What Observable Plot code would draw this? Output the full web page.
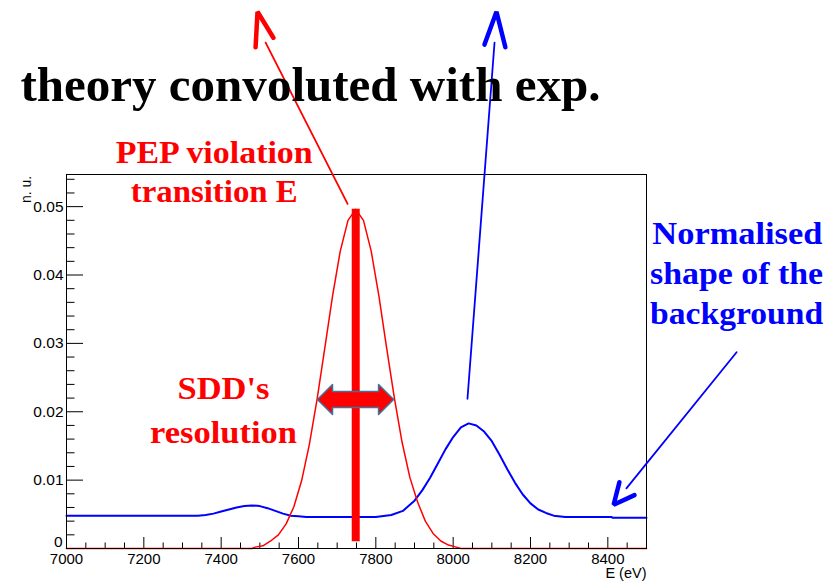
<!DOCTYPE html>
<html><head><meta charset="utf-8">
<script src="https://cdn.jsdelivr.net/npm/d3@7"></script>
<script src="https://cdn.jsdelivr.net/npm/@observablehq/plot@0.6"></script>
<style>
html,body{margin:0;padding:0;background:#fff;}
#chart{width:827px;height:582px;overflow:hidden;}
</style></head><body><div id="chart"></div>
<script>
// Background shape (blue), normalised
const blueEnergy = [7000, 7340, 7360, 7380, 7400, 7420, 7440, 7460, 7480, 7500, 7520, 7540, 7560, 7580, 7600, 7620, 7700, 7800, 7840, 7870, 7900, 7920, 7940, 7960, 7980, 8000, 8020, 8040, 8060, 8080, 8100, 8120, 8140, 8160, 8180, 8200, 8220, 8240, 8260, 8290, 8410, 8412, 8500];
const blueValue  = [0.0048, 0.0048, 0.0049, 0.0051, 0.0054, 0.0057, 0.0060, 0.0062, 0.0063, 0.0062, 0.0059, 0.0055, 0.0051, 0.0048, 0.0047, 0.0046, 0.0046, 0.0046, 0.0049, 0.0055, 0.0070, 0.0085, 0.0103, 0.0124, 0.0145, 0.0163, 0.0177, 0.0183, 0.0180, 0.0171, 0.0157, 0.0137, 0.0116, 0.0096, 0.0079, 0.0066, 0.0057, 0.0052, 0.0048, 0.0046, 0.0046, 0.0045, 0.0045];

// PEP violating transition convoluted with detector response (red)
const redEnergy = [7000, 7480, 7488, 7508, 7528, 7548, 7568, 7588, 7608, 7628, 7648, 7668, 7688, 7708, 7728, 7748, 7768, 7788, 7808, 7828, 7848, 7868, 7888, 7908, 7928, 7948, 7968, 7988, 8008, 8020, 8500];
const redValue  = [0, 0, 0.0002, 0.0004, 0.0011, 0.0020, 0.0036, 0.0061, 0.0099, 0.0152, 0.0218, 0.0293, 0.0369, 0.0435, 0.0480, 0.0496, 0.0480, 0.0435, 0.0369, 0.0293, 0.0220, 0.0155, 0.0104, 0.0068, 0.0040, 0.0022, 0.0011, 0.0005, 0.0002, 0, 0];

const peakEnergy = 7748;
const peakValue = 0.0496;

const xMajorTicks = [7000, 7200, 7400, 7600, 7800, 8000, 8200, 8400];
const xMinorTicks = [7050, 7100, 7150, 7250, 7300, 7350, 7450, 7500, 7550, 7650, 7700, 7750, 7850, 7900, 7950, 8050, 8100, 8150, 8250, 8300, 8350, 8450];
const yMajorTicks = [0, 0.01, 0.02, 0.03, 0.04, 0.05];
const yMinorTicks = [0.002, 0.004, 0.006, 0.008, 0.012, 0.014, 0.016, 0.018, 0.022, 0.024, 0.026, 0.028, 0.032, 0.034, 0.036, 0.038, 0.042, 0.044, 0.046, 0.048, 0.052, 0.054];

// annotation geometry, in data units (E in eV, value in n.u.)
const resolutionArrowE = [7649, 7688, 7688, 7807, 7807, 7846, 7807, 7807, 7688, 7688];
const resolutionArrowV = [0.02178, 0.02398, 0.02295, 0.02295, 0.02398, 0.02178, 0.01959, 0.02061, 0.02061, 0.01959];

const pointerGroup = ["redLine","redLine","redHead","redHead","redHead","blueLine","blueLine","blueHead","blueHead","blueHead","bgLine","bgLine","bgHead","bgHead","bgHead"];
const pointerE = [7727, 7515, 7489, 7494, 7535, 8037, 8107, 8081, 8112, 8135, 8733, 8448, 8430, 8415, 8469];
const pointerV = [0.0504, 0.0740, 0.0733, 0.0785, 0.0747, 0.0219, 0.0740, 0.0737, 0.0785, 0.0733, 0.0287, 0.0088, 0.0097, 0.0064, 0.0078];

const titleText = ["theory convoluted with exp."];
const redLabels = ["PEP violation", "transition E", "SDD's", "resolution"];
const redLabelE = [7382, 7382, 7406, 7406];
const redLabelV = [0.0564, 0.0507, 0.0218, 0.0155];
const blueLabels = ["Normalised", "shape of the", "background"];
const blueLabelE = [8735, 8733, 8733];
const blueLabelV = [0.0446, 0.0387, 0.0329];

const blue = blueEnergy.map((e, i) => ({e, v: blueValue[i]}));
const red = redEnergy.map((e, i) => ({e, v: redValue[i]}));
const arrow = resolutionArrowE.map((e, i) => ({e, v: resolutionArrowV[i]}));
const pointers = pointerE.map((e, i) => ({g: pointerGroup[i], e, v: pointerV[i]}));
const redLab = redLabels.map((t, i) => ({t, e: redLabelE[i], v: redLabelV[i]}));
const blueLab = blueLabels.map((t, i) => ({t, e: blueLabelE[i], v: blueLabelV[i]}));

const serif = "'Liberation Serif', 'DejaVu Serif', serif";
const thin = pointers.filter(d => d.g.endsWith("Line"));
const heads = pointers.filter(d => d.g.endsWith("Head"));

const plot = Plot.plot({
  width: 827,
  height: 582,
  marginLeft: 66,
  marginRight: 181,
  marginTop: 174,
  marginBottom: 34,
  x: {domain: [7000, 8500], label: null},
  y: {domain: [0, 0.0547], label: null},
  style: {fontFamily: "'Liberation Sans', Arial, sans-serif", fontSize: "15px", background: "white", overflow: "visible", color: "black"},
  marks: [
    Plot.axisX(xMajorTicks, {tickSize: -11, tickFormat: () => "", label: null}),
    Plot.axisX(xMinorTicks, {tickSize: -5.5, tickFormat: () => "", label: null}),
    Plot.axisX(xMajorTicks, {tickSize: 0, tickPadding: 5, tickFormat: d => String(d), label: null}),
    Plot.axisY(yMajorTicks, {tickSize: -17, tickFormat: () => "", label: null}),
    Plot.axisY(yMinorTicks, {tickSize: -8.5, tickFormat: () => "", label: null}),
    Plot.axisY(yMajorTicks.slice(1), {tickSize: 0, tickPadding: 3, tickFormat: d => d.toFixed(2), label: null, fontSize: 15.5}),
    Plot.text([0], {x: 7000, y: 0.0009, text: () => "0", textAnchor: "end", dx: -4, fontSize: 15.5}),
    Plot.text(["E (eV)"], {x: 8500, y: -0.0043, text: d => d, textAnchor: "end", lineAnchor: "bottom", fontSize: 14.5}),
    Plot.text(["n. u."], {x: 6907, y: 0.0545, text: d => d, textAnchor: "end", lineAnchor: "bottom", rotate: -90, fontSize: 14}),
    Plot.line(blue, {x: "e", y: "v", stroke: "#0000ff", strokeWidth: 2}),
    Plot.line(red, {x: "e", y: "v", stroke: "#ff0000", strokeWidth: 1.5}),
    Plot.frame({stroke: "#000", strokeWidth: 1}),
    Plot.ruleX([{e: peakEnergy, v: peakValue}], {x: "e", y1: 0.001, y2: "v", stroke: "#ff0000", strokeWidth: 8}),
    Plot.line(arrow, {x: "e", y: "v", fill: "#ff0000", stroke: "#41719c", strokeWidth: 1.5, curve: "linear-closed"}),
    Plot.line(thin, {x: "e", y: "v", z: "g", stroke: d => d.g === "redLine" ? "red" : "blue", strokeWidth: 1.8}),
    Plot.line(heads.filter(d => d.g === "redHead"), {x: "e", y: "v", stroke: "#ff0000", strokeWidth: 4.5, strokeLinejoin: "miter"}),
    Plot.line(heads.filter(d => d.g !== "redHead"), {x: "e", y: "v", z: "g", stroke: "#0000ff", strokeWidth: 4.5, strokeLinejoin: "miter"}),
    Plot.text(titleText, {x: 7631, y: 0.0654, text: d => d, textAnchor: "middle", lineAnchor: "bottom", fontFamily: serif, fontWeight: "bold", fontSize: 48, fill: "black"}),
    Plot.text(redLab, {x: "e", y: "v", text: "t", textAnchor: "middle", lineAnchor: "bottom", fontFamily: serif, fontWeight: "bold", fontSize: 32, fill: "#ff0000"}),
    Plot.text(blueLab, {x: "e", y: "v", text: "t", textAnchor: "middle", lineAnchor: "bottom", fontFamily: serif, fontWeight: "bold", fontSize: 32, fill: "#0000ff"})
  ]
});

// fit annotation widths to the reference
const widths = {"theory convoluted with exp.": 580, "PEP violation": 197, "transition E": 167, "SDD's": 92, "resolution": 147, "Normalised": 170, "shape of the": 173, "background": 173};
d3.select(plot).selectAll("text").each(function () {
  const w = widths[this.textContent];
  if (w) { this.setAttribute("textLength", w); this.setAttribute("lengthAdjust", "spacingAndGlyphs"); }
});
document.getElementById("chart").append(plot);
</script></body></html>
